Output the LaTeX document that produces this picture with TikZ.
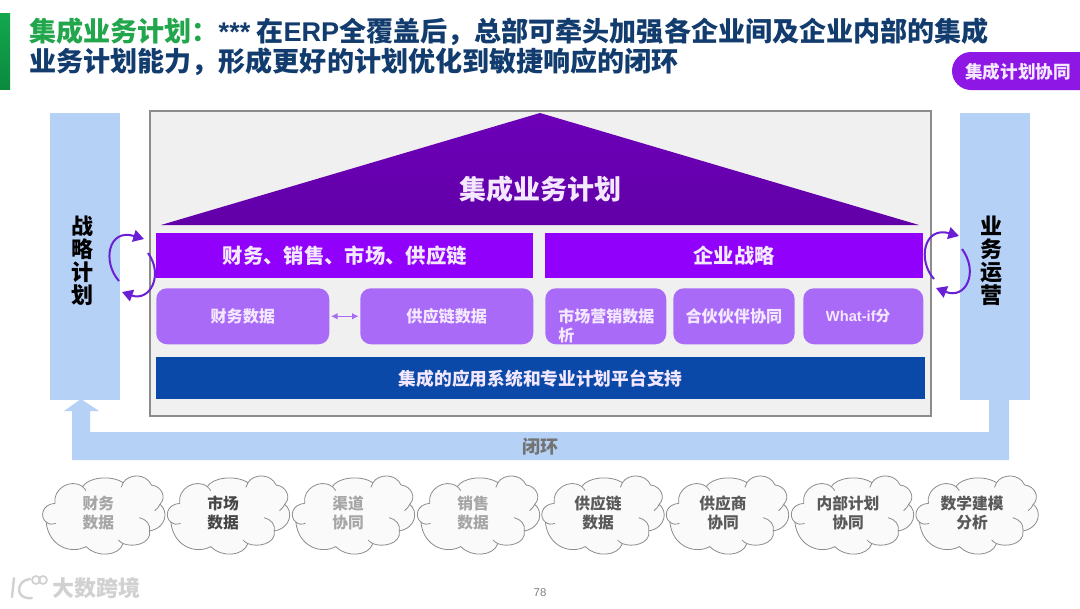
\documentclass[tikz,border=0pt]{standalone}
\usepackage{fontspec}
\setmainfont{Noto Sans CJK SC}
\newfontfamily\latf{Liberation Sans}
\usetikzlibrary{arrows.meta}
\definecolor{navy}{HTML}{123C6E}
\definecolor{titlegreen}{HTML}{22A64C}
\definecolor{barblue}{HTML}{B5D1F6}
\definecolor{pbright}{HTML}{9000FA}
\definecolor{psoft}{HTML}{A96BF7}
\definecolor{roofa}{HTML}{6C00B8}
\definecolor{roofb}{HTML}{6200A8}
\definecolor{deepblue}{HTML}{0B49A8}
\definecolor{loopc}{HTML}{6A1FD6}
\definecolor{softtext}{HTML}{F3E8FF}
\definecolor{gtop}{HTML}{12A84E}
\definecolor{gmid}{HTML}{1FC254}
\definecolor{gbot}{HTML}{0B8A3E}
\definecolor{tagp}{HTML}{8F17E6}
\newcommand{\fs}[2]{\fontsize{#1}{#2}\selectfont\bfseries}
\tikzset{
  x=0.75pt,y=-0.75pt,
  titletext/.style={anchor=west,inner sep=0,font=\fs{20.3}{24},text=navy},
  sidebar/.style={fill=barblue,draw=none,anchor=north west,inner sep=0,minimum width=52.5pt,minimum height=215.25pt},
  sidetext/.style={font=\fs{16.5}{17.2},text=black,align=center,inner sep=0},
  headbar/.style={fill=pbright,anchor=north west,inner sep=0,minimum height=33.75pt,text=softtext,font=\fs{15.25}{18}},
  softbox/.style={fill=psoft,anchor=north west,inner sep=0,rounded corners=8pt,minimum height=42pt,text=softtext,font=\fs{12.1}{14.4}},
  cloudline/.style={draw=black!45,line width=0.6pt,fill=black!2},
  creaseline/.style={draw=black!45,line width=0.6pt},
  cloudtext/.style={font=\fs{11.8}{14.7},align=center,inner sep=0},
  cyclearrow/.style={draw=loopc,line width=1.5pt,-{Triangle[length=8pt,width=9pt]}},
}
\newcommand{\cloudat}[1]{%
  \path[cloudline,shift={(#1,476)},xscale=0.344,yscale=0.333]
    (40,82) .. controls (32,40) and (85,5) .. (120,32)
    .. controls (135,5) and (200,-5) .. (238,20)
    .. controls (255,-8) and (305,-8) .. (320,27)
    .. controls (350,30) and (365,65) .. (345,85)
    .. controls (370,105) and (365,155) .. (315,165)
    .. controls (320,205) and (265,215) .. (238,203)
    .. controls (225,242) and (160,245) .. (130,212)
    .. controls (90,235) and (22,215) .. (14,138)
    .. controls (-4,125) and (0,85) .. (40,82) -- cycle;
  \path[creaseline,shift={(#1,476)},xscale=0.344,yscale=0.333]
    (14,138) .. controls (22,146) and (32,146) .. (42,142)
    (285,125) .. controls (305,130) and (318,145) .. (315,165)
    (345,85) .. controls (342,92) and (338,98) .. (330,104)
    (238,203) .. controls (232,200) and (228,197) .. (224,192)
    (120,32) .. controls (124,36) and (128,40) .. (130,44)
    (238,20) .. controls (236,26) and (234,30) .. (232,34);
}
\begin{document}
\begin{tikzpicture}
\useasboundingbox (0,0) rectangle (1080,608);
\fill[white] (0,0) rectangle (1080,608);

% title
\shade[top color=gtop,middle color=gmid,bottom color=gbot] (0,13) rectangle (10,89);
\node[titletext] (title1) at (29,32) {\textcolor{titlegreen}{集成业务计划：}{\latf ***} 在{\latf ERP}全覆盖后，总部可牵头加强各企业间及企业内部的集成};
\node[titletext] (title2) at (29,62) {业务计划能力，形成更好的计划优化到敏捷响应的闭环};

% tag
\fill[tagp] (1080,52) -- (971,52) arc[start angle=270,end angle=90,radius=19] -- (1080,90) -- cycle;
\node[inner sep=0,text=softtext,font=\fs{13.2}{15}] (tag) at (1018,72) {集成计划协同};

% main frame
\draw[draw=black!45,line width=1.5pt,fill=black!6] (150,111) rectangle (931,416);

% side bars
\node[sidebar] (strategy) at (50,113) {};
\node[sidebar] (ops) at (960,113) {};
\node[sidetext] (stratext) at (82,261) {战\\略\\计\\划};
\node[sidetext] (opstext) at (991,261) {业\\务\\运\\营};

% closed loop band
\fill[barblue] (1009,399) -- (1009,460) -- (72,460) -- (72,411) -- (64,411) -- (81,399) -- (99,411) -- (90,411) -- (90,432) -- (989,432) -- (989,399) -- cycle;
\node[inner sep=0,text=black!55,font=\fs{13.5}{15}] (loop) at (540,447) {闭环};

% roof
\shade[top color=roofa,bottom color=roofb] (540,113) -- (919,225) -- (161,225) -- cycle;
\node[inner sep=0,text=softtext,font=\fs{20.25}{24}] (roof) at (540,189) {集成业务计划};

% head bars
\node[headbar,minimum width=282.75pt] (fin) at (156,233) {财务、销售、市场、供应链};
\node[headbar,minimum width=283.5pt] (corp) at (545,233) {企业战略};

% soft boxes
\node[softbox,minimum width=129.75pt] (d1) at (156,288) {财务数据};
\node[softbox,minimum width=129.75pt] (d2) at (360,288) {供应链数据};
\node[softbox,minimum width=90.75pt] (d3) at (545,288) {};
\node[anchor=west,inner sep=0,text=softtext,font=\fs{12}{14.4},align=left] (d3t) at (558,326) {市场营销数据\\析};
\node[softbox,minimum width=91pt] (d4) at (673,288) {合伙伙伴协同};
\node[softbox,minimum width=90pt,font=\fs{11}{14}] (d5) at (803,288) {{\latf What-if}分\hspace*{0.7em}};
\draw[{Latex[length=5pt,width=5pt]}-{Latex[length=5pt,width=5pt]},draw=psoft,line width=1.1pt,shorten >=1pt,shorten <=1pt] (d1.east) -- (d2.west);

% platform bar
\node[fill=deepblue,anchor=north west,inner sep=0,minimum width=576.75pt,minimum height=31.5pt,text=softtext,font=\fs{13.3}{16}] (plat) at (156,357) {集成的应用系统和专业计划平台支持};

% cycle arrows
\coordinate (la1) at (119,281); \coordinate (la2) at (144,239);
\coordinate (lb1) at (148,253); \coordinate (lb2) at (122,292);
\coordinate (ra1) at (934,279); \coordinate (ra2) at (959,236);
\coordinate (rb1) at (962,249); \coordinate (rb2) at (936,288);
\draw[cyclearrow] (la1) .. controls (102,262) and (108,228) .. (la2);
\draw[cyclearrow] (lb1) .. controls (164,275) and (150,302) .. (lb2);
\draw[cyclearrow] (ra1) .. controls (917,260) and (924,226) .. (ra2);
\draw[cyclearrow] (rb1) .. controls (979,272) and (966,300) .. (rb2);

% clouds
\cloudat{41.3}\cloudat{166}\cloudat{291}\cloudat{416}\cloudat{540.5}\cloudat{665}\cloudat{790}\cloudat{914.6}
\node[cloudtext,text=black!35] (c1) at (98.3,513) {财务\\数据};
\node[cloudtext,text=black!72] (c2) at (223,513) {市场\\数据};
\node[cloudtext,text=black!35] (c3) at (348,513) {渠道\\协同};
\node[cloudtext,text=black!35] (c4) at (473,513) {销售\\数据};
\node[cloudtext,text=black!65] (c5) at (598,513) {供应链\\数据};
\node[cloudtext,text=black!65] (c6) at (723,513) {供应商\\协同};
\node[cloudtext,text=black!65] (c7) at (848,513) {内部计划\\协同};
\node[cloudtext,text=black!65] (c8) at (972,513) {数学建模\\分析};

% page number
\node[inner sep=0,text=black!50,font=\latf\fontsize{8.5}{10}\selectfont] (page) at (540,593) {78};

% watermark
\draw[black!18,line width=1.8pt,line cap=round] (14,578) -- (12,597);
\draw[black!18,line width=1.8pt,line cap=round] (30,579) .. controls (16,580) and (14,600) .. (32,598);
\draw[black!18,line width=1.3pt] (36,580) circle[radius=4];
\draw[black!18,line width=1.3pt] (43,580) circle[radius=4];
\node[inner sep=0,text=black!18,font=\fs{16.5}{18}] (mark) at (96,588) {大数跨境};
\end{tikzpicture}
\end{document}
